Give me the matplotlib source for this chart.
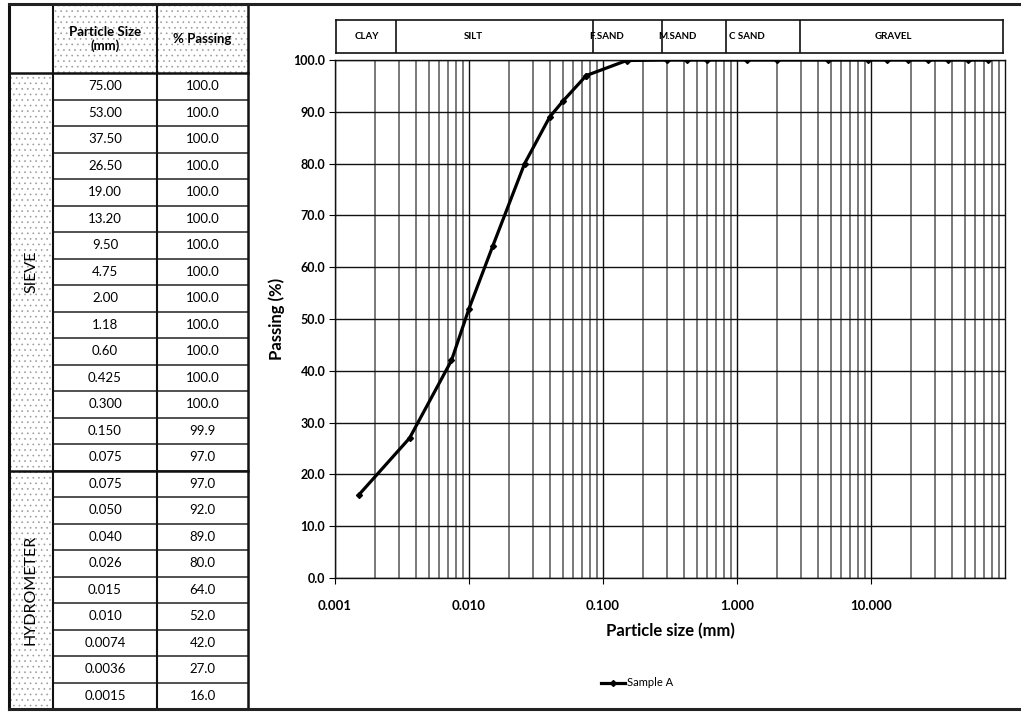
import matplotlib.pyplot as plt
from matplotlib.patches import Rectangle
from matplotlib.ticker import FixedLocator, LogLocator, NullFormatter

plt.rcParams['font.family'] = ['Lato', 'DejaVu Sans']
plt.rcParams['hatch.linewidth'] = 0.45

# grading results
sieve_size = ["75.00", "53.00", "37.50", "26.50", "19.00", "13.20", "9.50", "4.75",
              "2.00", "1.18", "0.60", "0.425", "0.300", "0.150", "0.075"]
sieve_pass = [100.0, 100.0, 100.0, 100.0, 100.0, 100.0, 100.0, 100.0,
              100.0, 100.0, 100.0, 100.0, 100.0, 99.9, 97.0]
hydro_size = ["0.075", "0.050", "0.040", "0.026", "0.015", "0.010", "0.0074", "0.0036", "0.0015"]
hydro_pass = [97.0, 92.0, 89.0, 80.0, 64.0, 52.0, 42.0, 27.0, 16.0]

# soil classification band
zone_bounds = [0.0028, 0.084, 0.28, 0.84, 3.0]
zone_names = ["CLAY", "SILT", "F.SAND", "M.SAND", "C SAND", "GRAVEL"]
zone_text_x = [0.0017, 0.0107, 0.107, 0.36, 1.2, 15.0]

W, H = 1021, 712
fig = plt.figure(figsize=(W / 100, H / 100), dpi=100)

# ---- background layer in pixel units: table + frame ----
bg = fig.add_axes([0, 0, 1, 1], zorder=0)
bg.set_xlim(0, W)
bg.set_ylim(H, 0)
bg.axis('off')

col_x = [9, 53, 157, 248]
top, head_bot, row_h = 5, 73, 26.5
n_sieve, n_hydro = len(sieve_size), len(hydro_size)
sec_y = head_bot + n_sieve * row_h
bot_y = sec_y + n_hydro * row_h


def stipple(x0, y0, x1, y1):
    bg.add_patch(Rectangle((x0, y0), x1 - x0, y1 - y0, facecolor='white',
                           edgecolor='#9a9a9a', hatch='...', linewidth=0))


stipple(col_x[1], top, col_x[2], head_bot)
stipple(col_x[2], top, col_x[3], head_bot)
stipple(col_x[0], head_bot, col_x[1], sec_y)
stipple(col_x[0], sec_y, col_x[1], bot_y)

# row lines
for i in range(1, n_sieve + n_hydro):
    y = head_bot + i * row_h
    bg.plot([col_x[1], col_x[3]], [y, y], color='#222', lw=1.1)
bg.plot([col_x[0], col_x[3]], [head_bot, head_bot], color='#111', lw=1.8)
bg.plot([col_x[0], col_x[3]], [sec_y, sec_y], color='#111', lw=1.8)
for x in col_x[1:3]:
    bg.plot([x, x], [top, bot_y], color='#111', lw=1.5)
bg.plot([col_x[0], col_x[0]], [top, bot_y], color='#111', lw=2.2)
bg.plot([col_x[3], col_x[3]], [top, bot_y], color='#111', lw=1.8)
# outer frame
bg.plot([col_x[0], W], [top - 1, top - 1], color='#222', lw=2.2)
bg.plot([col_x[0], W], [bot_y, bot_y], color='#222', lw=2.2)

bg.text((col_x[1] + col_x[2]) / 2, (top + head_bot) / 2, "Particle Size\n(mm)",
        ha='center', va='center', fontsize=9.5, fontweight='bold', linespacing=1.1)
bg.text((col_x[2] + col_x[3]) / 2, (top + head_bot) / 2, "% Passing",
        ha='center', va='center', fontsize=9.5, fontweight='bold')

sizes = sieve_size + hydro_size
passing = sieve_pass + hydro_pass
for i, (s, p) in enumerate(zip(sizes, passing)):
    yc = head_bot + (i + 0.5) * row_h
    bg.text((col_x[1] + col_x[2]) / 2, yc, s, ha='center', va='center', fontsize=9.5)
    bg.text((col_x[2] + col_x[3]) / 2, yc, f"{p:.1f}", ha='center', va='center', fontsize=9.5)

bg.text((col_x[0] + col_x[1]) / 2, (head_bot + sec_y) / 2, "SIEVE", rotation=90,
        ha='center', va='center', fontsize=11.5)
bg.text((col_x[0] + col_x[1]) / 2, (sec_y + bot_y) / 2, "HYDROMETER", rotation=90,
        ha='center', va='center', fontsize=11.5)

# ---- grading curve ----
ax_l, ax_r, ax_t, ax_b = 335, 1005, 60, 578
ax = fig.add_axes([ax_l / W, 1 - ax_b / H, (ax_r - ax_l) / W, (ax_b - ax_t) / H], zorder=1)

pts = sorted(zip([float(s) for s in sizes], passing))
xs = [p[0] for p in pts]
ys = [p[1] for p in pts]
ax.plot(xs, ys, color='black', lw=2.3, marker='D', ms=3, label='Sample A', zorder=3)

ax.set_xscale('log')
ax.set_xlim(0.001, 100)
ax.set_ylim(0, 100)
ax.xaxis.set_major_locator(FixedLocator([0.001, 0.01, 0.1, 1, 10]))
ax.set_xticklabels(["0.001", "0.010", "0.100", "1.000", "10.000"])
ax.xaxis.set_minor_locator(LogLocator(base=10, subs=range(2, 10)))
ax.xaxis.set_minor_formatter(NullFormatter())
ax.set_yticks(range(0, 101, 10))
ax.set_yticklabels([f"{v:.1f}" for v in range(0, 101, 10)])
ax.tick_params(axis='x', which='major', direction='out', length=4, pad=12, labelsize=9.5)
ax.tick_params(axis='x', which='minor', length=0)
ax.tick_params(axis='y', direction='out', length=4, pad=3, labelsize=9)
for lab in ax.get_xticklabels() + ax.get_yticklabels():
    lab.set_fontweight('bold')

ax.grid(True, which='major', axis='both', color='#111', lw=1.0)
ax.grid(True, which='minor', axis='x', color='#555', lw=1.1)
for sp in ax.spines.values():
    sp.set_color('#111')
    sp.set_linewidth(1.0)

ax.set_xlabel("Particle size (mm)", fontsize=12, fontweight='bold', labelpad=8)
ax.set_ylabel("Passing (%)", fontsize=12, fontweight='bold', labelpad=6)

ax.legend(loc='center', bbox_to_anchor=(637 / W, 1 - 683 / H), bbox_transform=fig.transFigure,
          frameon=False, fontsize=8, handlelength=2.2, handletextpad=0.2)

# ---- classification band ----
band = fig.add_axes([336 / W, 1 - 53 / H, (1003 - 336) / W, (53 - 20) / H], zorder=1)
band.set_xscale('log')
band.set_xlim(0.001, 100)
band.set_ylim(0, 1)
band.set_xticks([])
band.set_yticks([])
band.minorticks_off()
for sp in band.spines.values():
    sp.set_color('#111')
    sp.set_linewidth(1.2)
for b in zone_bounds:
    band.axvline(b, color='#111', lw=1.2)
for name, x in zip(zone_names, zone_text_x):
    band.text(x, 0.5, name, ha='center', va='center', fontsize=7, fontweight='bold')

fig.savefig("out.png", dpi=100)
